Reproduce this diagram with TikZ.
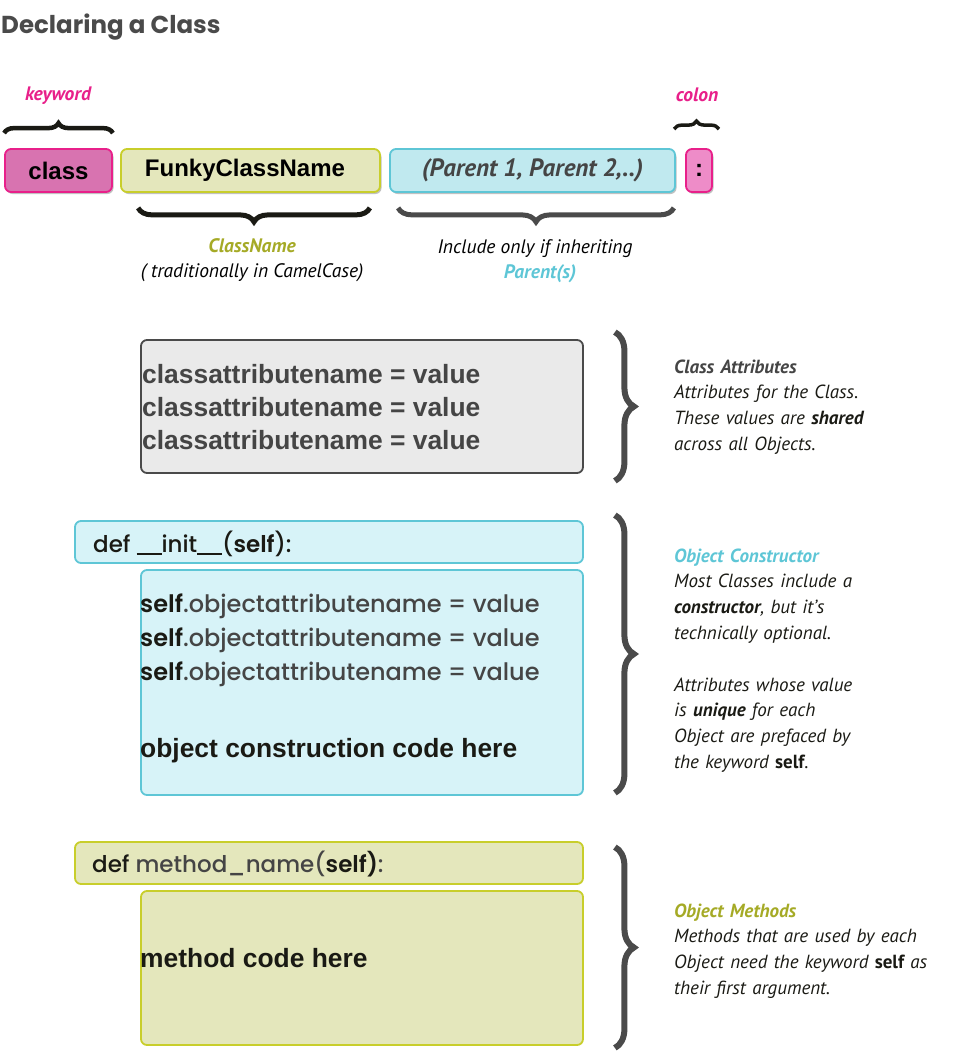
\documentclass[tikz,border=0pt]{standalone}
\usepackage{fontspec}
\setmainfont{PT Sans}
\newfontfamily\titlefont{Poppins}[UprightFont={* Bold}]
\newfontfamily\deffont{Poppins}[UprightFont={* Medium},BoldFont={* SemiBold}]
\newfontfamily\codefont{Liberation Sans}
\usetikzlibrary{shadows,decorations.pathreplacing}

\definecolor{pinkfill}{HTML}{D873B0}
\definecolor{pinkline}{HTML}{E8208A}
\definecolor{colonfill}{HTML}{EE8CC8}
\definecolor{olivefill}{HTML}{E4E7BC}
\definecolor{oliveline}{HTML}{C8CE2B}
\definecolor{olivetext}{HTML}{A5AA26}
\definecolor{cyanfill}{HTML}{C0E9EF}
\definecolor{cyanpale}{HTML}{D7F3F8}
\definecolor{cyanline}{HTML}{5EC6D6}
\definecolor{greyfill}{HTML}{EAEAEA}
\definecolor{greyline}{HTML}{4A4A4A}
\definecolor{greytext}{HTML}{454545}
\definecolor{inkblack}{HTML}{1A1A14}

% joined underscores as in the dunder name
\newcommand\dunder{\rule[-2.5pt]{25pt}{2pt}}

\tikzset{
  token/.style={rounded corners=6pt,line width=1.8pt,inner sep=0pt,minimum height=43pt,
    drop shadow={shadow xshift=1.5pt,shadow yshift=-2pt,opacity=.35,fill=black!70}},
  panel/.style={rounded corners=6pt,line width=1.8pt,inner sep=0pt},
  tokentext/.style={font=\codefont\bfseries\fontsize{24}{28}\selectfont},
  codeline/.style={anchor=base west,inner sep=0pt,text=inkblack,
    font=\codefont\bfseries\fontsize{26.4}{30}\selectfont},
  defline/.style={anchor=base west,inner sep=0pt,text=inkblack,
    font=\deffont\fontsize{24}{28}\selectfont},
  sigline/.style={defline,font=\deffont\fontsize{23}{27}\selectfont},
  labeltext/.style={anchor=base,inner sep=0pt,font=\fontsize{19.5}{23}\selectfont\itshape},
  labelhead/.style={labeltext,font=\fontsize{19.5}{23}\selectfont\bfseries\itshape},
  notetext/.style={anchor=base west,inner sep=0pt,text width=290pt,align=left,text=inkblack,
    font=\fontsize{19}{25.8}\selectfont\itshape},
  smallbrace/.style={decorate,decoration={brace,amplitude=#1},line width=4.5pt,draw=inkblack},
  bigbrace/.style={decorate,decoration={brace,amplitude=19pt},line width=6pt,draw=greyline},
}

\begin{document}
\begin{tikzpicture}[x=1pt,y=-1pt]

        \useasboundingbox (0,0) rectangle (970,1054);

        \node[anchor=base west,inner sep=0pt,text=greyline,
          font=\titlefont\fontsize{24.5}{30}\selectfont] (title) at (1,34) {Declaring a Class};

        % the declaration line
        \node[token,tokentext,fill=pinkfill,draw=pinkline,minimum width=107pt] (cls) at (58.5,170.5) {class};
        \node[token,tokentext,fill=olivefill,draw=oliveline,minimum width=259pt] (fcn) at (250.5,170.5) {\hspace*{-11pt}FunkyClassName};
        \node[token,fill=cyanfill,draw=cyanline,minimum width=285pt,text=greytext,
          font=\bfseries\itshape\fontsize{25}{28}\selectfont] (par) at (532.5,170.5) {(Parent 1, Parent 2,..)};
        \node[token,tokentext,fill=colonfill,draw=pinkline,minimum width=26pt] (col) at (699,170.5) {:};

        \draw[smallbrace=10pt] ([yshift=15pt]cls.north west) -- ([yshift=15pt]cls.north east);
        \draw[smallbrace=8pt,line width=3.5pt] ([xshift=-11pt,yshift=19pt]col.north west) -- ([xshift=6pt,yshift=19pt]col.north east);
        \draw[smallbrace=14pt,line width=5pt] ([xshift=-11pt,yshift=-15pt]fcn.south east) -- ([xshift=18pt,yshift=-15pt]fcn.south west);
        \draw[smallbrace=14pt,line width=5pt,draw=greyline] ([xshift=-2pt,yshift=-15pt]par.south east) -- ([xshift=9pt,yshift=-15pt]par.south west);

        \node[labelhead,text=pinkline] (kw) at (58,101) {keyword};
        \node[labelhead,text=pinkline] (cn) at (697,102) {colon};
        \node[labelhead,text=olivetext] (nm) at (252,252) {ClassName};
        \node[labeltext] (camel) at (252,277) {( traditionally in CamelCase)};
        \node[labeltext] (inh) at (535,253) {Include only if inheriting};
        \node[labelhead,text=cyanline] (pars) at (540,278) {Parent(s)};

        % class attributes
        \node[panel,fill=greyfill,draw=greyline,minimum width=442pt,minimum height=133pt] (attr) at (362,406.5) {};
        \foreach \i in {0,1,2}
          \node[codeline,text=greytext] (attr\i) at (142,{383+33*\i}) {classattributename = value};

        % constructor
        \node[panel,fill=cyanpale,draw=cyanline,minimum width=508pt,minimum height=42pt] (initdef) at (329,542) {};
        \node[sigline] (initsig) at (93,552) {def \dunder init\dunder(\textbf{self}):};
        \node[panel,fill=cyanpale,draw=cyanline,minimum width=442pt,minimum height=225pt] (initbody) at (362,682.5) {};
        \foreach \y [count=\i] in {612,646,680}
          \node[defline,text=greytext] (objattr\i) at (140,\y) {\textcolor{inkblack}{\bfseries self}.objectattributename = value};
        \node[codeline] (initcode) at (140,757) {object construction code here};

        % methods
        \node[panel,fill=olivefill,draw=oliveline,minimum width=508pt,minimum height=42pt] (methdef) at (329,863) {};
        \node[sigline] (methsig) at (92,872) {def \textcolor{greytext}{method\_name(}\textbf{self)}\textcolor{greytext}{:}};
        \node[panel,fill=olivefill,draw=oliveline,minimum width=442pt,minimum height=154pt] (methbody) at (362,968) {};
        \node[codeline] (methcode) at (140,967) {method code here};

        % braces and notes on the right
        \draw[bigbrace] ([xshift=31pt,yshift=7pt]attr.north east) -- ([xshift=31pt,yshift=-7pt]attr.south east);
        \draw[bigbrace] ([xshift=31pt,yshift=5pt]initdef.north east) -- ([xshift=31pt,yshift=3pt]initbody.south east);
        \draw[bigbrace] ([xshift=31pt,yshift=-6pt]methdef.north east) -- ([xshift=31pt,yshift=-2pt]methbody.south east);

        \node[notetext] (attrnote) at (674,373) {\textbf{\textcolor{greytext}{Class Attributes}}\\
          Attributes for the Class.\\ These values are \textbf{shared}\\ across all Objects.};
        \node[notetext] (initnote) at (674,562) {\textbf{\textcolor{cyanline}{Object Constructor}}\\
          Most Classes include a\\ \textbf{constructor}, but it's\\ technically optional.\\[25.8pt]
          Attributes whose value\\ is \textbf{unique} for each\\ Object are prefaced by\\
          the keyword \textbf{\upshape self}.};
        \node[notetext] (methnote) at (674,917) {\textbf{\textcolor{olivetext}{Object Methods}}\\
          Methods that are used by each\\ Object need the keyword \textbf{\upshape self} as\\
          their first argument.};

\end{tikzpicture}
\end{document}
